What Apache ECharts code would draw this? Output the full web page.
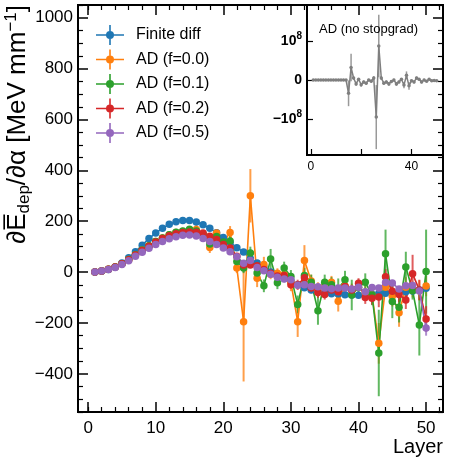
<!DOCTYPE html>
<html><head><meta charset="utf-8">
<script src="https://cdn.jsdelivr.net/npm/echarts@6/dist/echarts.min.js"></script>
<style>html,body{margin:0;padding:0;background:#fff}#c{width:450px;height:464px}</style>
</head><body><div id="c"></div>
<script>
// ---- data ----
const layers = Array.from({length: 50}, (_, i) => i + 1);
const seriesNames = ['Finite diff', 'AD (f=0.0)', 'AD (f=0.1)', 'AD (f=0.2)', 'AD (f=0.5)'];
const finiteDiff = [0,4,10,20,36,56,80,106,132,154,172,188,198,203,203,197,186,172,155,136,117,96,79,52,36,20,0,-16,-25,-35,-50,-62,-70,-76,-80,-85,-86,-89,-90,-91,-88,-87,-84,-83,-83,-80,-77,-74,-70,-64];
const finiteDiffErr = [0,1,1,1,1,1,1,1,2,2,2,2,2,2,2,2,2,2,2,2,2,2,2,2,2,2,2,2,2,2,2,2,2,2,2,2,2,2,2,2,2,2,2,2,2,2,2,2,2,2];
const adF00 = [0,4,11,20,33,50,68,87,104,120,134,147,156,160,158,167,147,97,154,114,156,16,-195,300,-24,30,-8,-5,-10,-40,-195,46,-35,-70,-55,-40,-115,-55,-70,-60,-80,-90,-280,-60,-95,-160,-60,-70,-72,-55];
const adF00Err = [0,1,1,1,2,2,3,3,4,5,5,6,8,10,10,18,15,22,15,15,25,20,235,105,35,30,20,20,20,35,60,60,25,30,25,25,40,25,25,25,25,25,80,30,40,55,40,30,40,40];
const adF01 = [0,4,11,20,33,50,68,87,104,120,134,147,157,162,168,162,150,110,140,118,122,42,16,75,-4,-54,51,-42,16,-17,-127,-13,-40,-152,-40,-50,-65,-30,-90,-60,-40,-90,-318,72,-116,-138,20,-73,-208,2];
const adF01Err = [0,1,1,1,2,2,3,3,4,5,5,6,8,10,12,12,12,15,15,18,35,25,20,25,25,25,40,25,25,25,35,30,30,55,30,30,40,35,60,30,35,40,170,95,65,60,60,35,120,165];
const adF02 = [0,4,11,20,33,49,67,85,102,118,132,143,151,156,158,157,154,141,128,108,95,62,28,28,25,10,-5,-15,-13,-50,-50,-22,-63,-80,-88,-70,-77,-57,-70,-44,-100,-103,-98,-18,-75,-88,-110,-7,-70,-184];
const adF02Err = [0,1,1,1,2,2,3,3,4,4,5,5,6,6,7,7,8,8,8,10,10,10,12,12,12,12,15,15,15,15,20,20,20,20,20,20,20,20,20,20,25,25,40,30,30,30,35,75,40,50];
const adF05 = [0,4,10,18,30,45,62,78,94,108,120,131,139,145,146,142,132,120,108,95,80,60,35,46,18,5,-8,-20,-27,-30,-52,-50,-57,-58,-63,-65,-63,-63,-66,-60,-77,-61,-63,-41,-43,-66,-54,-53,-74,-220];
const adF05Err = [0,1,1,1,2,2,2,3,3,3,4,4,4,5,5,5,5,6,6,6,6,6,8,8,8,8,8,8,8,8,10,10,10,10,10,10,10,10,10,10,10,10,10,10,10,10,10,10,12,30];
const noStopgrad = [0,0,0,0,0,0,0,0,0,0,0,0,0,0,-0.34e8,0.32e8,0.05e8,-0.1e8,0.02e8,-0.12e8,-0.05e8,-0.08e8,0,-0.03e8,0.05e8,-0.95e8,0.87e8,0.05e8,-0.08e8,-0.05e8,-0.1e8,-0.04e8,0,-0.1e8,-0.05e8,0.02e8,-0.13e8,0.12e8,-0.15e8,-0.02e8,-0.05e8,0.05e8,0.02e8,-0.05e8,0,-0.03e8,0.02e8,-0.02e8,-0.01e8,-0.02e8];
const noStopgradErr = [0,0,0,0,0,0,0,0,0,0,0,0,0,0.01e8,0.33e8,0.35e8,0.04e8,0.05e8,0.03e8,0.05e8,0.04e8,0.04e8,0.03e8,0.04e8,0.05e8,0.82e8,0.8e8,0.05e8,0.04e8,0.04e8,0.05e8,0.04e8,0.03e8,0.05e8,0.04e8,0.03e8,0.08e8,0.1e8,0.1e8,0.03e8,0.04e8,0.04e8,0.03e8,0.04e8,0.03e8,0.03e8,0.03e8,0.03e8,0.02e8,0.02e8];
const xTicks = [0,10,20,30,40,50];
const xMinorTicks = [0,2,4,6,8,12,14,16,18,22,24,26,28,32,34,36,38,42,44,46,48,52];
const yTicks = [-400,-200,0,200,400,600,800,1000];
const yMinorTicks = [-550,-500,-450,-350,-300,-250,-150,-100,-50,50,100,150,250,300,350,450,500,550,650,700,750,850,900,950,1050];
const insetXTicks = [0,20,40];
const insetXLabels = [0,40];
const insetYTicks = [-1e8,0,1e8];

// ---- chart ----
const colors = ['#1f77b4','#ff7f0e','#2ca02c','#d62728','#9467bd'];
const gray = '#7f7f7f';
const FONT = 'Liberation Sans, Arial, sans-serif';
const allVals = [finiteDiff, adF00, adF01, adF02, adF05];
const allErrs = [finiteDiffErr, adF00Err, adF01Err, adF02Err, adF05Err];

function errSeries(name, vals, errs, color, xi, yi, lw, op) {
  return {
    type: 'custom', name: name, xAxisIndex: xi, yAxisIndex: yi, clip: true, silent: true,
    itemStyle: {color: color},
    data: layers.map((l, i) => [l, vals[i] - errs[i], vals[i] + errs[i]]),
    encode: {x: 0, y: [1, 2]},
    renderItem: function (params, api) {
      const lo = api.coord([api.value(0), api.value(1)]);
      const hi = api.coord([api.value(0), api.value(2)]);
      return {type: 'line', shape: {x1: lo[0], y1: lo[1], x2: hi[0], y2: hi[1]},
        style: {stroke: color, lineWidth: lw, opacity: op}};
    }
  };
}
function lineSeries(name, vals, color, xi, yi, size, lw) {
  return {
    type: 'line', name: name, xAxisIndex: xi, yAxisIndex: yi,
    data: layers.map((l, i) => [l, vals[i]]),
    symbol: 'circle', symbolSize: size, showSymbol: true,
    itemStyle: {color: color}, lineStyle: {color: color, width: lw},
    animation: false, silent: true, clip: true
  };
}

const series = [];
for (let k = 0; k < 5; k++) {
  series.push(errSeries(seriesNames[k] + ' err', allVals[k], allErrs[k], colors[k], 0, 0, 2, 0.75));
  series.push(lineSeries(seriesNames[k], allVals[k], colors[k], 0, 0, 7.5, 1.6));
}
series.push(errSeries('nostop err', noStopgrad, noStopgradErr, gray, 4, 4, 1.5, 0.8));
series.push(lineSeries('nostop', noStopgrad, gray, 4, 4, 3.5, 1.5));

const tickMajor = {show: true, inside: true, length: 10, lineStyle: {color: '#000', width: 1.5}};
const tickMinor = {show: true, inside: true, length: 5, lineStyle: {color: '#000', width: 1.2}};
const minus = v => String(v).replace('-', '\u2212');
const noLine = {show: false, onZero: false};

function xAx(pos, ticks, minor, labels) {
  return {type: 'value', gridIndex: 0, position: pos, min: -1.5, max: 52.5,
    axisLine: noLine, splitLine: {show: false},
    axisTick: Object.assign({}, minor ? tickMinor : tickMajor, {customValues: ticks}),
    axisLabel: labels ? {show: true, customValues: ticks, fontSize: 17, color: '#000', fontFamily: FONT, margin: 8, formatter: minus} : {show: false}};
}
function yAx(pos, ticks, minor, labels) {
  return {type: 'value', gridIndex: 0, position: pos, min: -550, max: 1050,
    axisLine: noLine, splitLine: {show: false},
    axisTick: Object.assign({}, minor ? tickMinor : tickMajor, {customValues: ticks}),
    axisLabel: labels ? {show: true, customValues: ticks, fontSize: 17, color: '#000', fontFamily: FONT, margin: 5, formatter: minus} : {show: false}};
}

const legendIcon = 'path://M0,9.2h28v1.6h-28z M13.2,0h1.6v20h-1.6z M18,10a4,4 0 1,1 -8,0a4,4 0 1,1 8,0z';

const option = {
  backgroundColor: '#fff',
  animation: false,
  color: colors,
  textStyle: {fontFamily: FONT},
  grid: [
    {left: 78, top: 5, width: 365, height: 407, show: true, borderColor: '#000', borderWidth: 2, backgroundColor: 'transparent', containLabel: false},
    {left: 307, top: 5, width: 136, height: 150, show: true, borderColor: '#000', borderWidth: 2, backgroundColor: '#fff', containLabel: false}
  ],
  xAxis: [
    xAx('bottom', xTicks, false, true),
    xAx('bottom', xMinorTicks, true, false),
    xAx('top', xTicks, false, false),
    xAx('top', xMinorTicks, true, false),
    {type: 'value', gridIndex: 1, position: 'bottom', min: -1.5, max: 52.5,
      axisLine: noLine, splitLine: {show: false},
      axisTick: {show: true, inside: true, length: 6, customValues: insetXTicks, lineStyle: {color: '#000', width: 1.2}},
      axisLabel: {show: true, customValues: insetXLabels, fontSize: 12, color: '#000', fontFamily: FONT, margin: 6}}
  ],
  yAxis: [
    yAx('left', yTicks, false, true),
    yAx('left', yMinorTicks, true, false),
    yAx('right', yTicks, false, false),
    yAx('right', yMinorTicks, true, false),
    {type: 'value', gridIndex: 1, position: 'left', min: -1.92e8, max: 1.92e8,
      axisLine: noLine, splitLine: {show: false},
      axisTick: {show: true, inside: true, length: 6, customValues: insetYTicks, lineStyle: {color: '#000', width: 1.2}},
      axisLabel: {show: true, customValues: insetYTicks, margin: 5, color: '#000',
        formatter: v => v > 0 ? '{b|10}{s|8}' : (v < 0 ? '{b|\u221210}{s|8}' : '{b|0}'),
        rich: {b: {fontSize: 14, fontWeight: 'bold', fontFamily: FONT, color: '#000'},
               s: {fontSize: 10, fontWeight: 'bold', fontFamily: FONT, color: '#000', padding: [0, 0, 9, 0]}}}}
  ],
  legend: {
    left: 91, top: 20, orient: 'vertical', itemWidth: 28, itemHeight: 20, itemGap: 4.5,
    selectedMode: false,
    textStyle: {fontSize: 16, color: '#000', fontFamily: FONT, padding: [0, 0, 0, 7]},
    data: seriesNames.map((n, i) => ({name: n, icon: legendIcon, itemStyle: {color: colors[i]}}))
  },
  graphic: [
    {type: 'text', x: 18, y: 5, rotation: Math.PI / 2,
      style: {text: '{a|\u2202E\u0305}{sub|dep}{a|/\u2202\u03b1 [MeV mm}{sup|\u22121}{a|]}', align: 'right', verticalAlign: 'middle',
        rich: {a: {fontSize: 26, fontFamily: FONT, fill: '#000'},
               sub: {fontSize: 17, fontFamily: FONT, fill: '#000', padding: [13, 0, 0, 0]},
               sup: {fontSize: 17, fontFamily: FONT, fill: '#000', padding: [0, 0, 13, 0]}}}},
    {type: 'text', x: 443, y: 447, style: {text: 'Layer', fontSize: 20, fontFamily: FONT, fill: '#000', align: 'right', verticalAlign: 'middle'}},
    {type: 'text', x: 319, y: 29, z: 100, style: {text: 'AD (no stopgrad)', fontSize: 13, fontFamily: FONT, fill: '#000', align: 'left', verticalAlign: 'middle'}}
  ],
  series: series
};
const chart = echarts.init(document.getElementById('c'), null, {renderer: 'canvas'});
chart.setOption(option);
</script></body></html>
